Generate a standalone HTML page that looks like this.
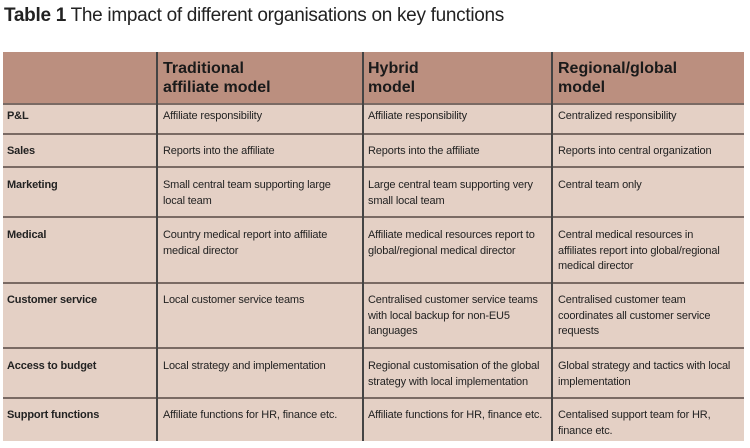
<!DOCTYPE html>
<html><head><style>
body{margin:0;width:750px;height:448px;background:#fff;font-family:"Liberation Sans",sans-serif;position:relative;overflow:hidden}
.t{position:absolute;left:4px;top:5px;font-size:19px;color:#222;letter-spacing:-0.3px}
.t b{font-weight:bold}
.hd{position:absolute;left:3px;top:52px;width:741px;height:52px;background:#bb8f7f}
.bd{position:absolute;left:3px;top:104px;width:741px;height:337px;background:#e4d0c5}
.h{position:absolute;top:104px;left:3px;width:741px;height:1.5px;background:#7a6a64}
.v{position:absolute;top:52px;height:389px;width:1.5px;background:#444}
.c{position:absolute;font-size:11px;line-height:15.5px;color:#222;letter-spacing:-0.15px}
.l{font-weight:bold}
.hh{position:absolute;top:59px;font-size:16px;font-weight:bold;line-height:19px;color:#1a1a1a}
</style></head><body>
<div class="t"><b>Table 1</b> The impact of different organisations on key functions</div>
<div class="hd"></div><div class="bd"></div>
<div class="h" style="top:103px"></div>
<div class="h" style="top:133px"></div>
<div class="h" style="top:166px"></div>
<div class="h" style="top:216px"></div>
<div class="h" style="top:282px"></div>
<div class="h" style="top:347px"></div>
<div class="h" style="top:397px"></div>
<div class="v" style="left:156px"></div>
<div class="v" style="left:362px"></div>
<div class="v" style="left:551px"></div>
<div class="hh" style="left:163px">Traditional<br>affiliate model</div>
<div class="hh" style="left:368px">Hybrid<br>model</div>
<div class="hh" style="left:558px">Regional/global<br>model</div>

<div class="c l" style="left:7px;top:109px">P&amp;L</div>
<div class="c" style="left:163px;top:109px">Affiliate responsibility</div>
<div class="c" style="left:368px;top:109px">Affiliate responsibility</div>
<div class="c" style="left:558px;top:109px">Centralized responsibility</div>

<div class="c l" style="left:7px;top:144px">Sales</div>
<div class="c" style="left:163px;top:144px">Reports into the affiliate</div>
<div class="c" style="left:368px;top:144px">Reports into the affiliate</div>
<div class="c" style="left:558px;top:144px">Reports into central organization</div>

<div class="c l" style="left:7px;top:178px">Marketing</div>
<div class="c" style="left:163px;top:178px">Small central team supporting large<br>local team</div>
<div class="c" style="left:368px;top:178px">Large central team supporting very<br>small local team</div>
<div class="c" style="left:558px;top:178px">Central team only</div>

<div class="c l" style="left:7px;top:228px">Medical</div>
<div class="c" style="left:163px;top:228px">Country medical report into affiliate<br>medical director</div>
<div class="c" style="left:368px;top:228px">Affiliate medical resources report to<br>global/regional medical director</div>
<div class="c" style="left:558px;top:228px">Central medical resources in<br>affiliates report into global/regional<br>medical director</div>

<div class="c l" style="left:7px;top:293px">Customer service</div>
<div class="c" style="left:163px;top:293px">Local customer service teams</div>
<div class="c" style="left:368px;top:293px">Centralised customer service teams<br>with local backup for non-EU5<br>languages</div>
<div class="c" style="left:558px;top:293px">Centralised customer team<br>coordinates all customer service<br>requests</div>

<div class="c l" style="left:7px;top:359px">Access to budget</div>
<div class="c" style="left:163px;top:359px">Local strategy and implementation</div>
<div class="c" style="left:368px;top:359px">Regional customisation of the global<br>strategy with local implementation</div>
<div class="c" style="left:558px;top:359px">Global strategy and tactics with local<br>implementation</div>

<div class="c l" style="left:7px;top:408px">Support functions</div>
<div class="c" style="left:163px;top:408px">Affiliate functions for HR, finance etc.</div>
<div class="c" style="left:368px;top:408px">Affiliate functions for HR, finance etc.</div>
<div class="c" style="left:558px;top:408px">Centalised support team for HR,<br>finance etc.</div>
</body></html>
